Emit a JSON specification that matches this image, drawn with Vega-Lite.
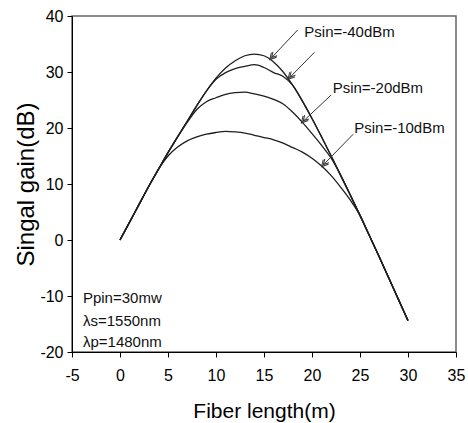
{
  "$schema": "https://vega.github.io/schema/vega-lite/v6.json",
  "width": 384,
  "height": 336,
  "autosize": {"type": "none"},
  "padding": {"left": 72, "top": 16, "right": 12, "bottom": 71},
  "background": "white",
  "config": {
    "font": "Liberation Sans",
    "view": {"stroke": "#666666", "strokeWidth": 1.5},
    "axis": {
      "grid": false,
      "domainColor": "#000000",
      "tickColor": "#000000",
      "labelColor": "#000000",
      "titleColor": "#000000",
      "labelFont": "Liberation Sans",
      "titleFont": "Liberation Sans",
      "titleFontWeight": "normal",
      "labelFontSize": 16,
      "tickSize": 5,
      "labelFlush": false,
      "labelExpr": "toString(datum.value)"
    }
  },
  "datasets": {
    "curves": [
      {"series": "-40", "x": 0, "y": 0}, {"series": "-40", "x": 1, "y": 3.2}, {"series": "-40", "x": 2, "y": 6.4}, {"series": "-40", "x": 3, "y": 9.6}, {"series": "-40", "x": 4, "y": 12.6}, {"series": "-40", "x": 5, "y": 15.6}, {"series": "-40", "x": 6, "y": 18.4}, {"series": "-40", "x": 7, "y": 21.2}, {"series": "-40", "x": 8, "y": 24.0}, {"series": "-40", "x": 9, "y": 26.6}, {"series": "-40", "x": 10, "y": 28.9}, {"series": "-40", "x": 11, "y": 30.7}, {"series": "-40", "x": 12, "y": 32.0}, {"series": "-40", "x": 13, "y": 32.9}, {"series": "-40", "x": 14, "y": 33.2}, {"series": "-40", "x": 15, "y": 32.9}, {"series": "-40", "x": 16, "y": 31.8}, {"series": "-40", "x": 17, "y": 30.0}, {"series": "-40", "x": 18, "y": 27.6}, {"series": "-40", "x": 19, "y": 24.8}, {"series": "-40", "x": 20, "y": 21.7}, {"series": "-40", "x": 21, "y": 18.4}, {"series": "-40", "x": 22, "y": 15.0}, {"series": "-40", "x": 23, "y": 11.5}, {"series": "-40", "x": 24, "y": 8.0}, {"series": "-40", "x": 25, "y": 4.4}, {"series": "-40", "x": 26, "y": 0.7}, {"series": "-40", "x": 27, "y": -3.0}, {"series": "-40", "x": 28, "y": -6.8}, {"series": "-40", "x": 29, "y": -10.6}, {"series": "-40", "x": 30, "y": -14.4},
      {"series": "-30", "x": 0, "y": 0}, {"series": "-30", "x": 1, "y": 3.2}, {"series": "-30", "x": 2, "y": 6.4}, {"series": "-30", "x": 3, "y": 9.6}, {"series": "-30", "x": 4, "y": 12.6}, {"series": "-30", "x": 5, "y": 15.6}, {"series": "-30", "x": 6, "y": 18.4}, {"series": "-30", "x": 7, "y": 21.2}, {"series": "-30", "x": 8, "y": 24.0}, {"series": "-30", "x": 9, "y": 26.6}, {"series": "-30", "x": 10, "y": 28.7}, {"series": "-30", "x": 11, "y": 29.9}, {"series": "-30", "x": 12, "y": 30.6}, {"series": "-30", "x": 13, "y": 31.0}, {"series": "-30", "x": 14, "y": 31.3}, {"series": "-30", "x": 15, "y": 30.8}, {"series": "-30", "x": 16, "y": 29.9}, {"series": "-30", "x": 17, "y": 29.2}, {"series": "-30", "x": 18, "y": 27.6}, {"series": "-30", "x": 19, "y": 24.8}, {"series": "-30", "x": 20, "y": 21.7}, {"series": "-30", "x": 21, "y": 18.4}, {"series": "-30", "x": 22, "y": 15.0}, {"series": "-30", "x": 23, "y": 11.5}, {"series": "-30", "x": 24, "y": 8.0}, {"series": "-30", "x": 25, "y": 4.4}, {"series": "-30", "x": 26, "y": 0.7}, {"series": "-30", "x": 27, "y": -3.0}, {"series": "-30", "x": 28, "y": -6.8}, {"series": "-30", "x": 29, "y": -10.6}, {"series": "-30", "x": 30, "y": -14.4},
      {"series": "-20", "x": 0, "y": 0}, {"series": "-20", "x": 1, "y": 3.2}, {"series": "-20", "x": 2, "y": 6.4}, {"series": "-20", "x": 3, "y": 9.6}, {"series": "-20", "x": 4, "y": 12.6}, {"series": "-20", "x": 5, "y": 15.6}, {"series": "-20", "x": 6, "y": 18.4}, {"series": "-20", "x": 7, "y": 21.0}, {"series": "-20", "x": 8, "y": 23.3}, {"series": "-20", "x": 9, "y": 24.7}, {"series": "-20", "x": 10, "y": 25.4}, {"series": "-20", "x": 11, "y": 26.0}, {"series": "-20", "x": 12, "y": 26.3}, {"series": "-20", "x": 13, "y": 26.4}, {"series": "-20", "x": 14, "y": 26.1}, {"series": "-20", "x": 15, "y": 25.7}, {"series": "-20", "x": 16, "y": 25.1}, {"series": "-20", "x": 17, "y": 24.3}, {"series": "-20", "x": 18, "y": 22.8}, {"series": "-20", "x": 19, "y": 21.0}, {"series": "-20", "x": 20, "y": 19.0}, {"series": "-20", "x": 21, "y": 16.9}, {"series": "-20", "x": 22, "y": 14.6}, {"series": "-20", "x": 23, "y": 11.5}, {"series": "-20", "x": 24, "y": 8.0}, {"series": "-20", "x": 25, "y": 4.4}, {"series": "-20", "x": 26, "y": 0.7}, {"series": "-20", "x": 27, "y": -3.0}, {"series": "-20", "x": 28, "y": -6.8}, {"series": "-20", "x": 29, "y": -10.6}, {"series": "-20", "x": 30, "y": -14.4},
      {"series": "-10", "x": 0, "y": 0}, {"series": "-10", "x": 1, "y": 3.2}, {"series": "-10", "x": 2, "y": 6.4}, {"series": "-10", "x": 3, "y": 9.6}, {"series": "-10", "x": 4, "y": 12.6}, {"series": "-10", "x": 5, "y": 15.0}, {"series": "-10", "x": 6, "y": 16.6}, {"series": "-10", "x": 7, "y": 17.7}, {"series": "-10", "x": 8, "y": 18.4}, {"series": "-10", "x": 9, "y": 18.9}, {"series": "-10", "x": 10, "y": 19.2}, {"series": "-10", "x": 11, "y": 19.4}, {"series": "-10", "x": 12, "y": 19.3}, {"series": "-10", "x": 13, "y": 19.1}, {"series": "-10", "x": 14, "y": 18.7}, {"series": "-10", "x": 15, "y": 18.3}, {"series": "-10", "x": 16, "y": 17.9}, {"series": "-10", "x": 17, "y": 17.3}, {"series": "-10", "x": 18, "y": 16.5}, {"series": "-10", "x": 19, "y": 15.7}, {"series": "-10", "x": 20, "y": 14.6}, {"series": "-10", "x": 21, "y": 13.2}, {"series": "-10", "x": 22, "y": 11.5}, {"series": "-10", "x": 23, "y": 9.4}, {"series": "-10", "x": 24, "y": 7.1}, {"series": "-10", "x": 25, "y": 4.4}, {"series": "-10", "x": 26, "y": 0.7}, {"series": "-10", "x": 27, "y": -3.0}, {"series": "-10", "x": 28, "y": -6.8}, {"series": "-10", "x": 29, "y": -10.6}, {"series": "-10", "x": 30, "y": -14.4}
    ],
    "arrows": [
      {"x": 15.6, "y": 32.2, "x2": 18.5, "y2": 37.5},
      {"x": 17.5, "y": 28.7, "x2": 20.25, "y2": 33.5},
      {"x": 18.9, "y": 20.9, "x2": 22.0, "y2": 25.9},
      {"x": 21.0, "y": 13.1, "x2": 24.3, "y2": 18.9}
    ],
    "labels": [
      {"x": 19.2, "y": 37.1, "label": "Psin=-40dBm"},
      {"x": 22.15, "y": 27.1, "label": "Psin=-20dBm"},
      {"x": 24.4, "y": 20.0, "label": "Psin=-10dBm"},
      {"x": -3.86, "y": -10.4, "label": "Ppin=30mw"},
      {"x": -3.86, "y": -14.4, "label": "λs=1550nm"},
      {"x": -3.86, "y": -18.2, "label": "λp=1480nm"}
    ]
  },
  "layer": [
    {
      "data": {"name": "curves"},
      "mark": {"type": "line", "interpolate": "monotone", "color": "#1e1e1e", "strokeWidth": 1.3},
      "encoding": {
        "x": {
          "field": "x", "type": "quantitative",
          "scale": {"domain": [-5, 35], "nice": false, "zero": false},
          "axis": {"values": [-5, 0, 5, 10, 15, 20, 25, 30, 35], "title": "Fiber length(m)", "titleFontSize": 21, "labelPadding": 10, "titlePadding": 17}
        },
        "y": {
          "field": "y", "type": "quantitative",
          "scale": {"domain": [-20, 40], "nice": false, "zero": false},
          "axis": {"values": [-20, -10, 0, 10, 20, 30, 40], "title": "Singal gain(dB)", "titleFontSize": 24, "labelPadding": 4, "titlePadding": 1}
        },
        "detail": {"field": "series", "type": "nominal"}
      }
    },
    {
      "data": {"name": "arrows"},
      "mark": {"type": "rule", "color": "#333333", "strokeWidth": 1},
      "encoding": {
        "x": {"field": "x", "type": "quantitative"},
        "y": {"field": "y", "type": "quantitative"},
        "x2": {"field": "x2"},
        "y2": {"field": "y2"}
      }
    },
    {
      "data": {"name": "arrows"},
      "mark": {"type": "point", "shape": "M -0.55 -1 L 0 0 L 0.55 -1 M -0.45 -1.25 L 0 -0.45 L 0.45 -1.25", "angle": 42, "size": 160, "filled": false, "stroke": "#333333", "strokeWidth": 1, "opacity": 1},
      "encoding": {
        "x": {"field": "x", "type": "quantitative"},
        "y": {"field": "y", "type": "quantitative"}
      }
    },
    {
      "data": {"name": "labels"},
      "mark": {"type": "text", "align": "left", "baseline": "middle", "fontSize": 15, "font": "Liberation Sans", "color": "#111111"},
      "encoding": {
        "x": {"field": "x", "type": "quantitative"},
        "y": {"field": "y", "type": "quantitative"},
        "text": {"field": "label", "type": "nominal"}
      }
    }
  ]
}
